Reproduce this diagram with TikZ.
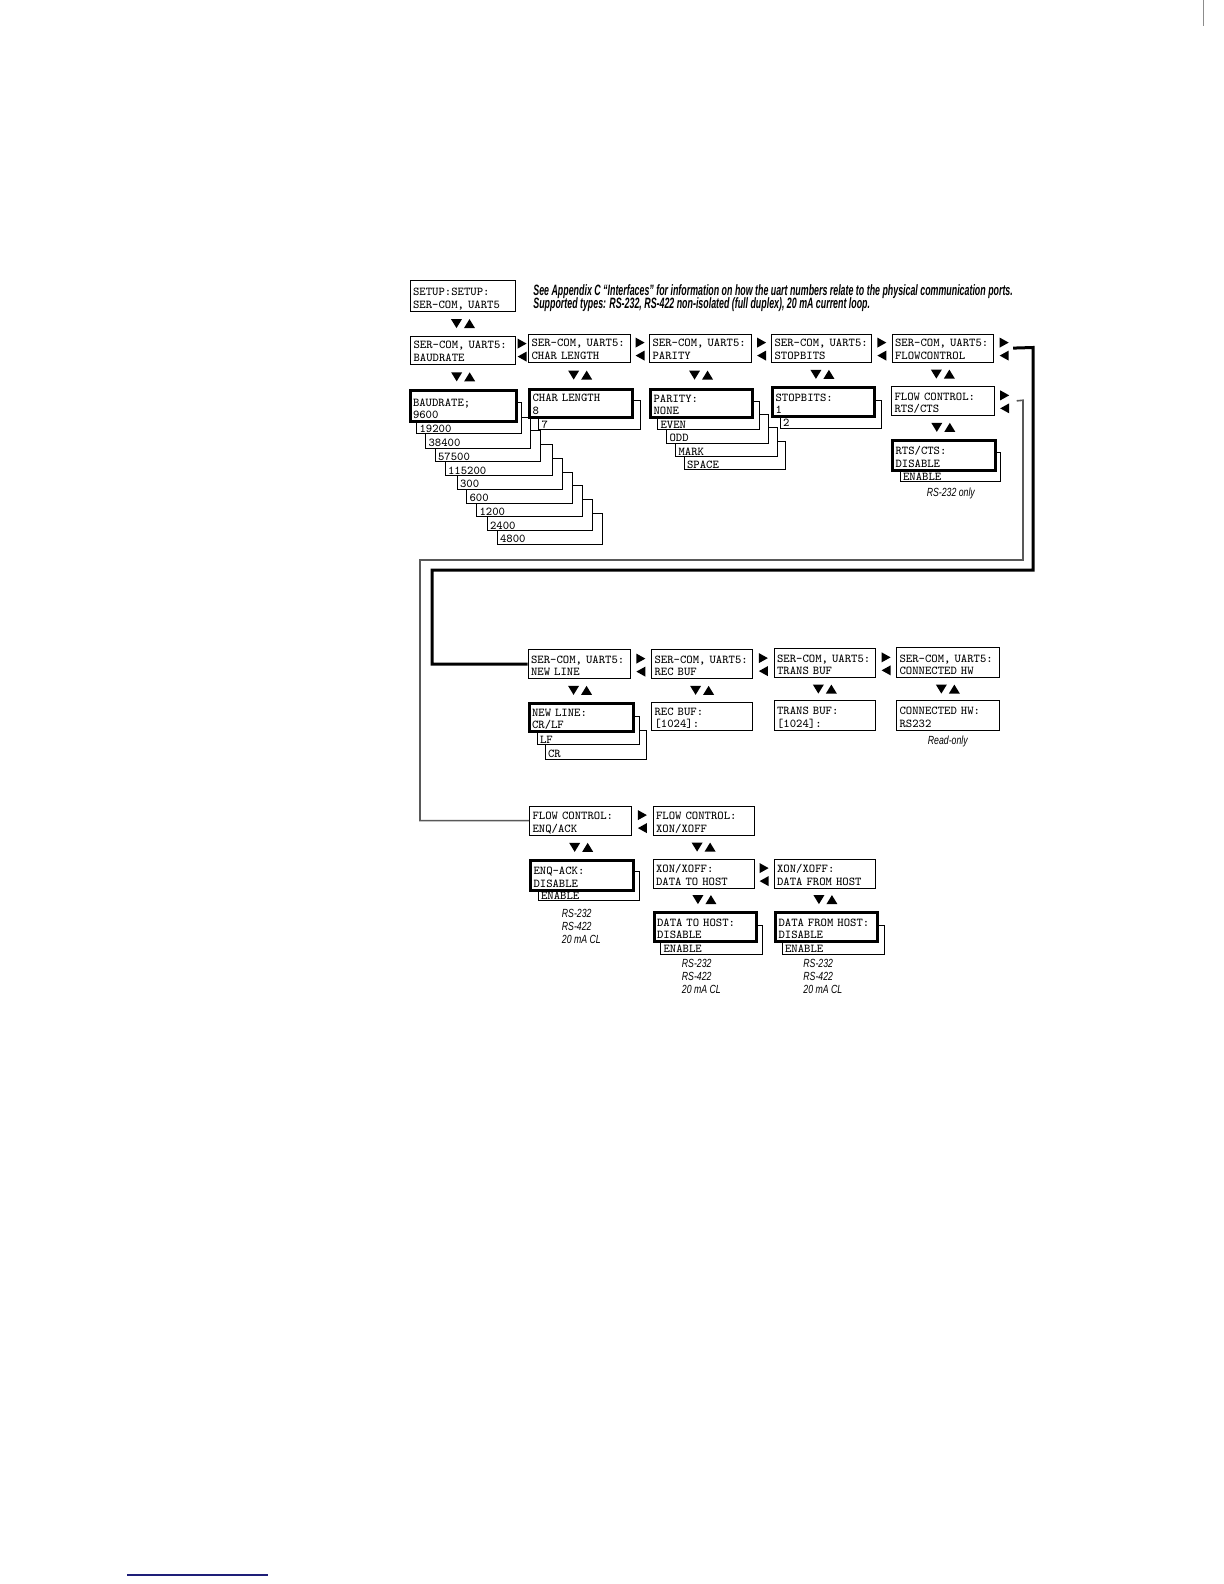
\documentclass[tikz,border=0pt]{standalone}
\usepackage{fontspec}
\usetikzlibrary{calc}
\newfontfamily\headfont[FakeStretch=0.59]{Liberation Sans}
\newfontfamily\remfont[FakeStretch=0.74]{Liberation Sans}
\definecolor{rulecol}{RGB}{30,30,120}

\tikzset{
  lcd/.style={draw, line width=0.6pt, fill=white, rectangle, anchor=north west,
    inner xsep=1.5pt, inner ysep=0pt, align=left,
    font=\ttfamily\fontsize{6}{6.2}\selectfont},
  sel/.style={lcd, line width=1.5pt},
  sz/.style 2 args={text width=#1*0.5pt-3pt, text height=#2*0.5pt-7.6pt, text depth=7.6pt},
  osz/.style 2 args={text width=#1*0.5pt-3pt, text height=#2*0.5pt-7pt, text depth=7pt},
  headnote/.style={font=\headfont\bfseries\itshape\fontsize{7.5}{8}\selectfont, inner sep=0pt, anchor=base west},
  remark/.style={font=\remfont\itshape\fontsize{5.9}{6.5}\selectfont, inner sep=0pt, align=left},
  link/.style={line width=1.5pt},
  sublink/.style={line width=0.8pt, draw=black!65},
  pics/lr/.style={code={
    \fill (-4.5,-10.5) -- (4.5,-5.5) -- (-4.5,-0.5) -- cycle;
    \fill (4.5,2.5) -- (-4.5,7.5) -- (4.5,12.5) -- cycle;}},
  pics/ud/.style={code={
    \fill (-12,-4.5) -- (-1,-4.5) -- (-6.5,4.5) -- cycle;
    \fill (1,4.5) -- (12,4.5) -- (6.5,-4.5) -- cycle;}}
}

\begin{document}
\begin{tikzpicture}[x=0.5pt,y=-0.5pt]
  \useasboundingbox (0,0) rectangle (1224,1584);

  % Notes on top
  \node[headnote] (note1) at (533,295.5) {See Appendix C “Interfaces” for information on how the uart numbers relate to the physical communication ports.};
  \node[headnote] (note2) at (533,308) {Supported types: RS-232, RS-422 non-isolated (full duplex), 20 mA current loop.};

  % First menu row
  \node[lcd, sz={105.5}{30.5}] (setup) at (409.5,280) {SETUP:SETUP:\\SER-COM, UART5};
  \node[lcd, sz={105}{28}] (baud1) at (410,335.5) {SER-COM, UART5:\\BAUDRATE};
  \node[lcd, sz={102}{28}] (char1) at (528,333.5) {SER-COM, UART5:\\CHAR LENGTH};
  \node[lcd, sz={102}{28}] (par1) at (649,333.5) {SER-COM, UART5:\\PARITY};
  \node[lcd, sz={100}{28}] (stop1) at (771,333.5) {SER-COM, UART5:\\STOPBITS};
  \node[lcd, sz={101.5}{28}] (flow1) at (891.5,333.5) {SER-COM, UART5:\\FLOWCONTROL};

  % Baudrate values
  \node[lcd, osz={105}{31}] (b4800) at (496.5,512.5) {\mbox{}\\4800};
  \node[lcd, osz={105}{31}] (b2400) at (486.5,499) {\mbox{}\\2400};
  \node[lcd, osz={105.5}{31}] (b1200) at (476,485) {\mbox{}\\1200};
  \node[lcd, osz={105.5}{31}] (b600) at (466,471.5) {\mbox{}\\600};
  \node[lcd, osz={105.5}{31}] (b300) at (456.5,457.5) {\mbox{}\\300};
  \node[lcd, osz={107}{31}] (b115200) at (444.5,444) {\mbox{}\\115200};
  \node[lcd, osz={105.5}{31}] (b57500) at (434.5,430) {\mbox{}\\57500};
  \node[lcd, osz={105}{31}] (b38400) at (425,416.5) {\mbox{}\\38400};
  \node[lcd, osz={105}{31}] (b19200) at (416,402) {\mbox{}\\19200};
  \node[sel, sz={106.5}{31}] (baudsel) at (408.5,389) {BAUDRATE;\\9600};

  % Char length values
  \node[lcd, osz={101.5}{29}] (char7) at (538,400) {\mbox{}\\7};
  \node[sel, sz={102.5}{28}] (charsel) at (528,387.5) {CHAR LENGTH\\8};

  % Parity values
  \node[lcd, osz={101.5}{28.5}] (pspace) at (683.5,440.5) {\mbox{}\\SPACE};
  \node[lcd, osz={102}{29}] (pmark) at (675,427) {\mbox{}\\MARK};
  \node[lcd, osz={102}{29}] (podd) at (666,413.5) {\mbox{}\\ODD};
  \node[lcd, osz={102}{28.5}] (peven) at (657,400.5) {\mbox{}\\EVEN};
  \node[sel, sz={102}{28.5}] (parsel) at (649,387.5) {PARITY:\\NONE};

  % Stopbits values
  \node[lcd, osz={101.5}{28}] (stop2) at (779.5,399.5) {\mbox{}\\2};
  \node[sel, sz={101.5}{29}] (stopsel) at (771,386) {STOPBITS:\\1};

  % Flow control
  \node[lcd, sz={102.5}{29.5}] (rts) at (891,385.5) {FLOW CONTROL:\\RTS/CTS};
  \node[lcd, osz={100.5}{29.5}] (rtsen) at (899.5,451.5) {\mbox{}\\ENABLE};
  \node[sel, sz={102.5}{30}] (rtssel) at (891,438.5) {RTS/CTS:\\DISABLE};
  \node[remark, anchor=north] (rtsnote) at (950.8,488) {RS-232 only};

  % Second menu row
  \node[lcd, sz={102}{29}] (nl1) at (527.5,649) {SER-COM, UART5:\\NEW LINE};
  \node[lcd, sz={101}{29}] (rb1) at (651,649) {SER-COM, UART5:\\REC BUF};
  \node[lcd, sz={101.5}{29}] (tb1) at (773.5,648) {SER-COM, UART5:\\TRANS BUF};
  \node[lcd, sz={102.5}{30}] (hw1) at (896,647) {SER-COM, UART5:\\CONNECTED HW};

  \node[lcd, osz={101}{29}] (nlcr) at (544.5,729.5) {\mbox{}\\CR};
  \node[lcd, osz={102.5}{28}] (nllf) at (536.5,716) {\mbox{}\\LF};
  \node[sel, sz={104}{28.5}] (nlsel) at (527.5,701.5) {NEW LINE:\\CR/LF};
  \node[lcd, sz={101}{28.5}] (rb2) at (651,701.5) {REC BUF:\\{[1024]:}};
  \node[lcd, sz={101.5}{29.5}] (tb2) at (773.5,700) {TRANS BUF:\\{[1024]:}};
  \node[lcd, sz={102.5}{29.5}] (hw2) at (896,700) {CONNECTED HW:\\RS232};
  \node[remark, anchor=north] (ronote) at (947.8,735.5) {Read-only};

  % Third menu row
  \node[lcd, sz={102}{29}] (enq1) at (529,805.5) {FLOW CONTROL:\\ENQ/ACK};
  \node[lcd, sz={101}{29}] (xon1) at (652.5,805.5) {FLOW CONTROL:\\XON/XOFF};

  \node[lcd, osz={101}{29}] (enqen) at (537.5,871) {\mbox{}\\ENABLE};
  \node[sel, sz={102.5}{29.5}] (enqsel) at (529,859) {ENQ-ACK:\\DISABLE};
  \node[remark, anchor=north west] (enqnote) at (561.5,909) {RS-232\\RS-422\\20 mA CL};

  \node[lcd, sz={101}{29}] (dth1) at (652.5,858.5) {XON/XOFF:\\DATA TO HOST};
  \node[lcd, sz={101}{29}] (dfh1) at (773.5,858.5) {XON/XOFF:\\DATA FROM HOST};

  \node[lcd, osz={101.5}{28.5}] (dthen) at (660,925) {\mbox{}\\ENABLE};
  \node[sel, sz={102.5}{29.5}] (dthsel) at (652.5,910.5) {DATA TO HOST:\\DISABLE};
  \node[lcd, osz={102}{28.5}] (dfhen) at (781.5,925) {\mbox{}\\ENABLE};
  \node[sel, sz={101.5}{29.5}] (dfhsel) at (774,910.5) {DATA FROM HOST:\\DISABLE};
  \node[remark, anchor=north west] (dthnote) at (681.5,958.5) {RS-232\\RS-422\\20 mA CL};
  \node[remark, anchor=north west] (dfhnote) at (803,958.5) {RS-232\\RS-422\\20 mA CL};

  % Up/down keys
  \pic at ($(setup.south)!0.5!(baud1.north)$) {ud};
  \pic at ($(baud1.south)!0.5!(baudsel.north)$) {ud};
  \pic at ($(char1.south)!0.5!(charsel.north)$) {ud};
  \pic at ($(par1.south)!0.5!(parsel.north)$) {ud};
  \pic at ($(stop1.south)!0.5!(stopsel.north)$) {ud};
  \pic at ($(flow1.south)!0.5!(rts.north)$) {ud};
  \pic at ($(rts.south)!0.5!(rtssel.north)$) {ud};
  \pic at ($(nl1.south)!0.5!(nlsel.north)$) {ud};
  \pic at ($(rb1.south)!0.5!(rb2.north)$) {ud};
  \pic at ($(tb1.south)!0.5!(tb2.north)$) {ud};
  \pic at ($(hw1.south)!0.5!(hw2.north)$) {ud};
  \pic at ($(enq1.south)!0.5!(enqsel.north)$) {ud};
  \pic at ($(xon1.south)!0.5!(dth1.north)$) {ud};
  \pic at ($(dth1.south)!0.5!(dthsel.north)$) {ud};
  \pic at ($(dfh1.south)!0.5!(dfhsel.north)$) {ud};

  % Left/right keys
  \pic at ($(baud1.east)!0.5!(char1.west)$) {lr};
  \pic at ($(char1.east)!0.5!(par1.west)$) {lr};
  \pic at ($(par1.east)!0.5!(stop1.west)$) {lr};
  \pic at ($(stop1.east)!0.5!(flow1.west)$) {lr};
  \pic at ($(flow1.east)+(10,0)$) {lr};
  \pic at ($(rts.east)+(10,0)$) {lr};
  \pic at ($(nl1.east)!0.5!(rb1.west)$) {lr};
  \pic at ($(rb1.east)!0.5!(tb1.west)$) {lr};
  \pic at ($(tb1.east)!0.5!(hw1.west)$) {lr};
  \pic at ($(enq1.east)!0.5!(xon1.west)$) {lr};
  \pic at ($(dth1.east)!0.5!(dfh1.west)$) {lr};

  % Return lines
  \coordinate (fcout) at ($(flow1.east)+(19,0)$);
  \coordinate (rtsout) at ($(rts.east)+(22,0)$);
  \draw[link] (fcout) -- (1033,347.5) -- (1033,570) -- (432,570) |- (nl1.west);
  \draw[sublink] (rtsout) -- (1023,400.25) -- (1023,560) -- (420,560) |- (enq1.west);

  % Page marks
  \draw[rulecol, line width=0.6pt] (127,1575) -- (268,1575);
  \draw[black!45, line width=0.5pt] (1203,0) -- (1203,26);
\end{tikzpicture}
\end{document}
